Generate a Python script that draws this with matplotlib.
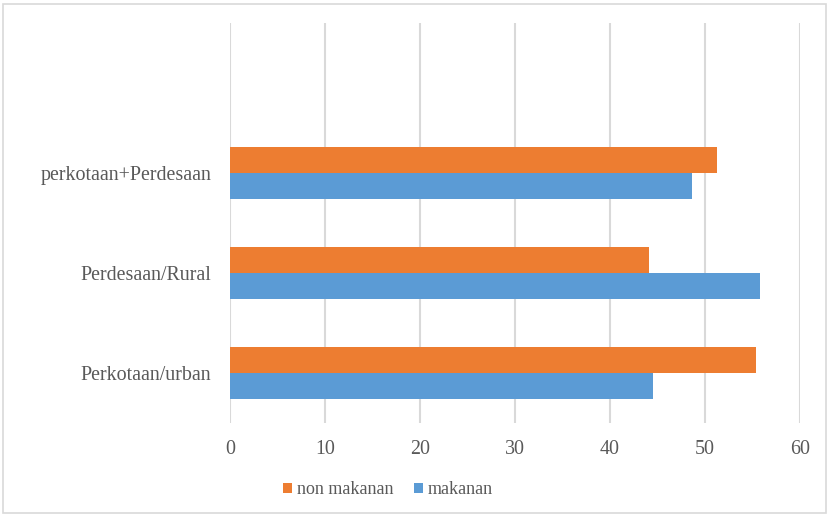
import matplotlib.pyplot as plt
import numpy as np
from matplotlib.patches import Rectangle

categories = ["Perkotaan/urban", "Perdesaan/Rural", "perkotaan+Perdesaan"]
non_makanan = [55.4, 44.1, 51.3]
makanan = [44.5, 55.8, 48.6]
xticks = [0, 10, 20, 30, 40, 50, 60]

plt.rcParams['font.family'] = ['Liberation Serif', 'DejaVu Serif']
txt = '#595959'
grid = '#d9d9d9'

fig = plt.figure(figsize=(8.29, 5.16), dpi=100)
ax = fig.add_axes([230/829, 1-423/516, 570/829, 400/516])

y = np.arange(len(categories))
h = 0.26
ax.barh(y + h/2, non_makanan, height=h, color='#ED7D31', label='non makanan', zorder=3)
ax.barh(y - h/2, makanan, height=h, color='#5B9BD5', label='makanan', zorder=3)

ax.set_xlim(0, 60)
ax.set_ylim(-0.5, 3.5)
ax.set_xticks(xticks)
ax.set_xticklabels([str(v) for v in xticks])
ax.set_yticks(y)
ax.set_yticklabels(categories)
ax.tick_params(axis='both', length=0, labelsize=14.4, colors=txt)
ax.tick_params(axis='x', pad=12)
ax.tick_params(axis='y', pad=13.5)
for s in ax.spines.values():
    s.set_visible(False)
ax.xaxis.grid(True, color=grid, linewidth=1.5, zorder=0)

hd, lb = ax.get_legend_handles_labels()
fig.legend(hd, lb, loc='center', bbox_to_anchor=(388/829, 1-490/516), ncol=2,
           frameon=False, fontsize=13, labelcolor=txt, handlelength=0.5,
           handleheight=0.5, handletextpad=0.3, columnspacing=1.1)

fig.patches.append(Rectangle((3/829, 3/516), 823/829, 509/516, transform=fig.transFigure,
                             fill=False, edgecolor=grid, linewidth=1.2))

fig.savefig('out.png', dpi=100)
